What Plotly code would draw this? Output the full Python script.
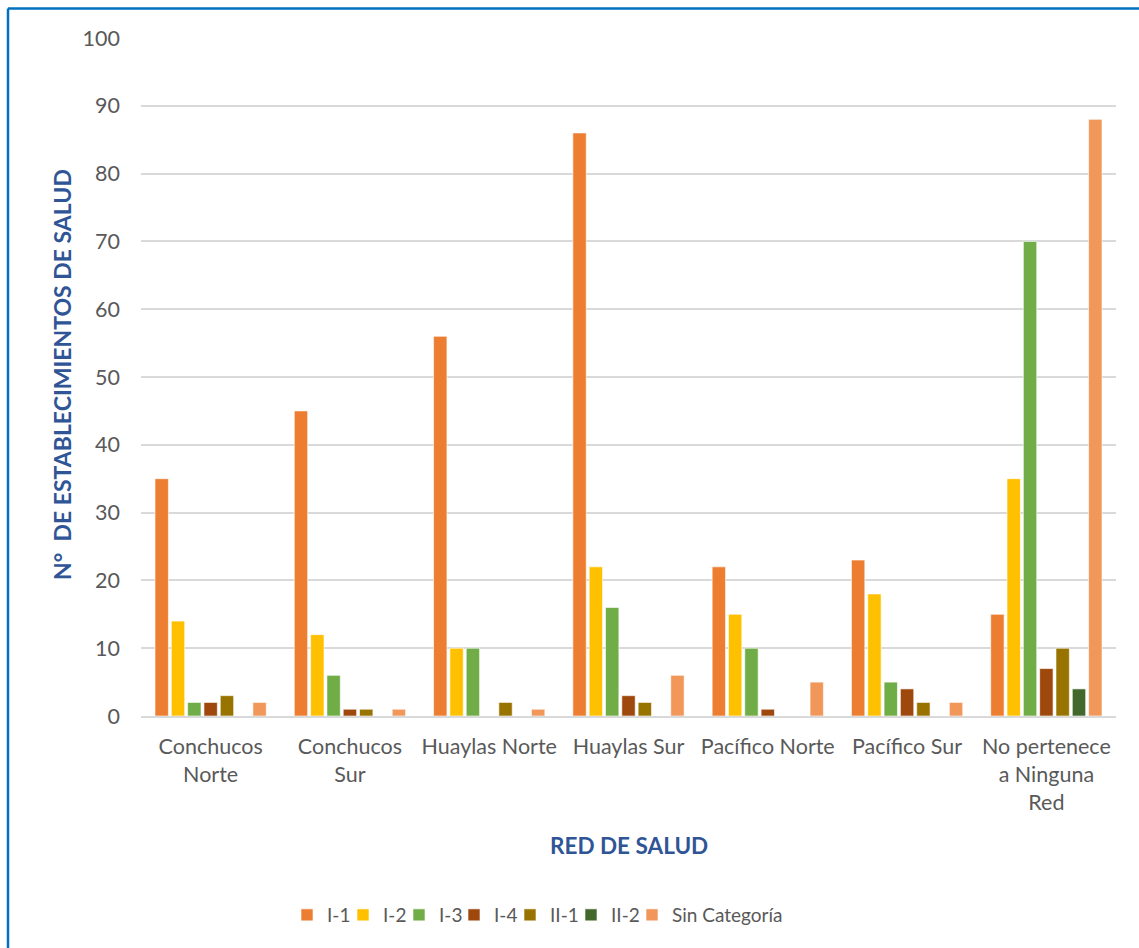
import plotly.graph_objects as go

categories = ["Conchucos<br>Norte", "Conchucos<br>Sur", "Huaylas Norte", "Huaylas Sur",
              "Pacífico Norte", "Pacífico Sur", "No pertenece<br>a Ninguna<br>Red"]
series_names = ["I-1", "I-2", "I-3", "I-4", "II-1", "II-2", "Sin Categoría"]
i1 = [35, 45, 56, 86, 22, 23, 15]
i2 = [14, 12, 10, 22, 15, 18, 35]
i3 = [2, 6, 10, 16, 10, 5, 70]
i4 = [2, 1, 0, 3, 1, 4, 7]
ii1 = [3, 1, 2, 2, 0, 2, 10]
ii2 = [0, 0, 0, 0, 0, 0, 4]
sin_cat = [2, 1, 1, 6, 5, 2, 88]
series_values = [i1, i2, i3, i4, ii1, ii2, sin_cat]
colors = ["#ED7D31", "#FFC000", "#70AD47", "#9E480E", "#997300", "#43682B", "#F1975A"]
y_ticks = [0, 10, 20, 30, 40, 50, 60, 70, 80, 90, 100]

FONT = "Lato"
TXT = "#595959"
BLUE = "#2F5597"

L, R, T, B = 141, 23, 38, 232
W, H = 1139, 948
pw = W - L - R
ph = H - T - B
leg_y = (H - B - 915) / ph
# left edge (px) of each legend swatch in the reference
swatch_px = [306, 362, 418, 473, 529, 590, 651]

fig = go.Figure()
legend_layouts = {}
for k, (name, vals, col) in enumerate(zip(series_names, series_values, colors)):
    key = "legend" if k == 0 else f"legend{k + 1}"
    fig.add_trace(go.Bar(
        x=categories, y=vals, name=name, legend=key,
        marker=dict(color=col, line=dict(color="rgba(255,255,255,0.6)", width=1)),
    ))
    legend_layouts[key] = dict(
        orientation="h", x=(swatch_px[k] - 19 - L) / pw, xanchor="left",
        y=leg_y, yanchor="middle", bgcolor="rgba(0,0,0,0)",
        font=dict(family=FONT, size=19, color=TXT), itemwidth=30, tracegroupgap=0)

fig.update_layout(
    width=W, height=H,
    margin=dict(l=L, r=R, t=T, b=B),
    paper_bgcolor="white", plot_bgcolor="white",
    barmode="group", bargap=0.18, bargroupgap=0.18,
    font=dict(family=FONT, size=21.5, color=TXT),
    showlegend=True,
    xaxis=dict(showgrid=False, showline=True, linecolor="#D9D9D9", linewidth=2,
               ticks="", tickfont=dict(family=FONT, size=21.5, color=TXT),
               ticklabelstandoff=10),
    yaxis=dict(range=[0, 100], tickvals=y_ticks, showgrid=True, gridcolor="#D9D9D9",
               gridwidth=1.5, zeroline=False, showline=False, ticks="",
               tickfont=dict(family=FONT, size=21.5, color=TXT), ticklabelstandoff=20),
    annotations=[
        dict(text="<b>RED DE SALUD</b>", xref="paper", yref="paper",
             x=0.5, y=(H - B - 845) / ph, xanchor="center", yanchor="middle",
             showarrow=False, font=dict(family=FONT, size=22.5, color=BLUE)),
        dict(text="<b>N°  DE ESTABLECIMIENTOS DE SALUD</b>", xref="paper", yref="paper",
             x=(62 - L) / pw, y=(H - B - 375) / ph, xanchor="center", yanchor="middle",
             textangle=-90, showarrow=False, font=dict(family=FONT, size=23, color=BLUE)),
    ],
    shapes=[
        dict(type="line", xref="paper", yref="paper",
             x0=(8 - L) / pw, x1=(8 - L) / pw, y0=(H - B - 8.5) / ph, y1=(H - B - 960) / ph,
             line=dict(color="#0070C0", width=2.5)),
        dict(type="line", xref="paper", yref="paper",
             x0=(8 - L) / pw, x1=(1150 - L) / pw, y0=(H - B - 8.5) / ph, y1=(H - B - 8.5) / ph,
             line=dict(color="#0070C0", width=2.5)),
    ],
)
fig.update_layout(**legend_layouts)

fig.write_html("out.html")
